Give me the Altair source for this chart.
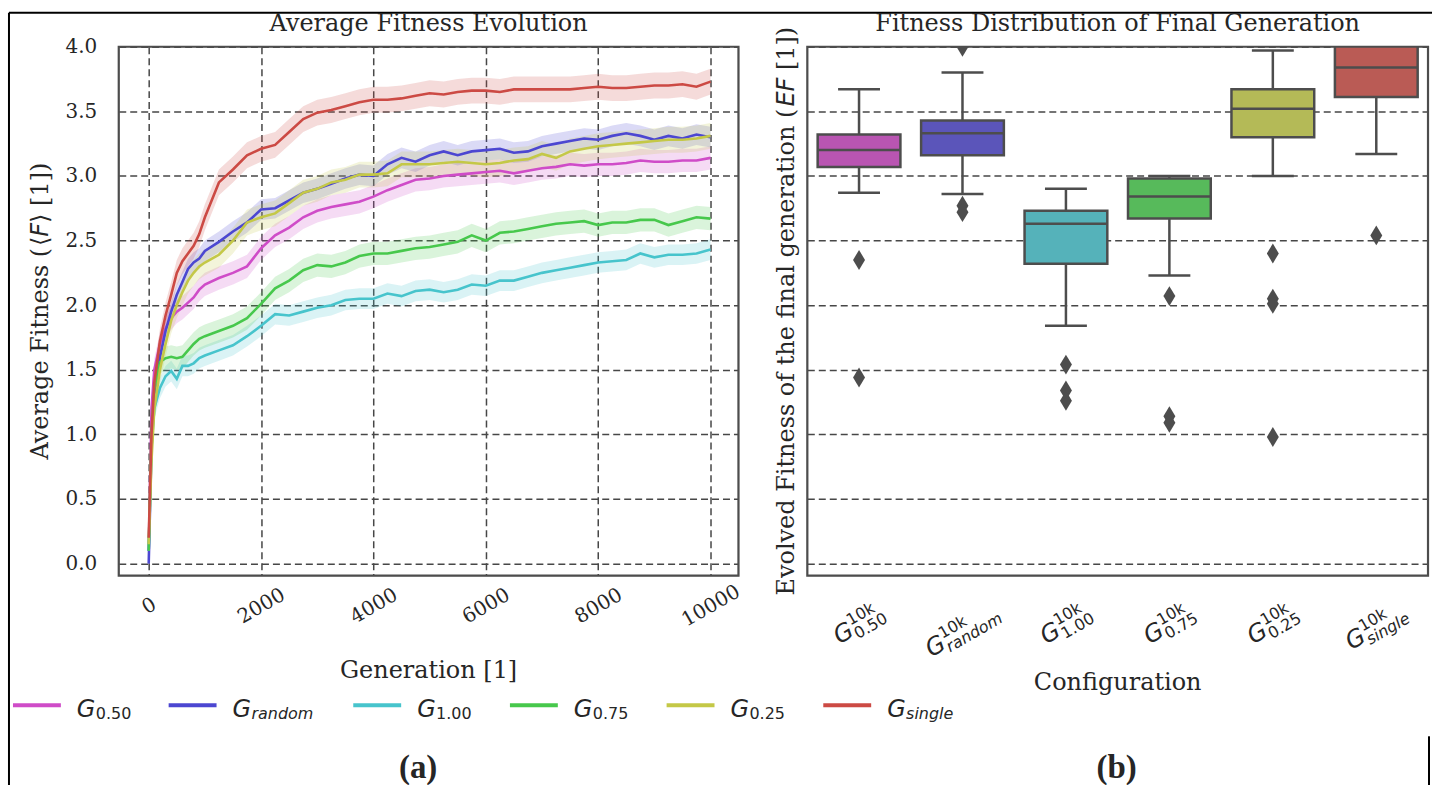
import math
import altair as alt
import pandas as pd

# ---------------------------------------------------------------------------
# Mean fitness per sampled generation, one list per configuration
# ---------------------------------------------------------------------------
generations = [0, 50, 100, 200, 300, 400, 500, 600, 700, 800, 900, 1000,
               1250, 1500, 1750, 2000, 2250, 2500, 2750, 3000, 3250, 3500, 3750, 4000,
               4250, 4500, 4750, 5000, 5250, 5500, 5750, 6000, 6250, 6500, 6750, 7000,
               7250, 7500, 7750, 8000, 8250, 8500, 8750, 9000, 9250, 9500, 9750, 10000]

fitness_050 = [0.10, 1.20, 1.50, 1.70, 1.82, 1.90, 1.95, 1.98, 2.02, 2.06, 2.12, 2.16,
               2.21, 2.25, 2.30, 2.44, 2.54, 2.60, 2.68, 2.73, 2.76, 2.78, 2.80, 2.84,
               2.89, 2.93, 2.97, 2.98, 3.00, 3.01, 3.02, 3.03, 3.04, 3.02, 3.04, 3.06,
               3.07, 3.09, 3.08, 3.09, 3.09, 3.10, 3.12, 3.11, 3.11, 3.12, 3.12, 3.14]
fitness_random = [0.00, 0.90, 1.30, 1.60, 1.80, 1.95, 2.08, 2.18, 2.28, 2.33, 2.36, 2.42,
                  2.49, 2.57, 2.64, 2.74, 2.75, 2.81, 2.87, 2.90, 2.94, 2.98, 3.01, 3.00,
                  3.09, 3.14, 3.11, 3.16, 3.19, 3.16, 3.19, 3.20, 3.21, 3.18, 3.19, 3.23,
                  3.25, 3.27, 3.29, 3.28, 3.31, 3.33, 3.31, 3.28, 3.31, 3.29, 3.32, 3.30]
fitness_100 = [0.10, 0.90, 1.20, 1.36, 1.45, 1.49, 1.43, 1.53, 1.53, 1.55, 1.59, 1.61,
               1.65, 1.69, 1.76, 1.84, 1.93, 1.92, 1.95, 1.98, 2.00, 2.04, 2.05, 2.05,
               2.09, 2.07, 2.11, 2.12, 2.10, 2.12, 2.16, 2.15, 2.19, 2.19, 2.22, 2.25,
               2.27, 2.29, 2.31, 2.33, 2.34, 2.35, 2.40, 2.37, 2.39, 2.39, 2.40, 2.43]
fitness_075 = [0.10, 1.00, 1.35, 1.56, 1.59, 1.60, 1.59, 1.60, 1.65, 1.70, 1.74, 1.76,
               1.80, 1.84, 1.90, 2.01, 2.13, 2.19, 2.27, 2.31, 2.30, 2.33, 2.38, 2.40,
               2.40, 2.42, 2.44, 2.45, 2.47, 2.49, 2.54, 2.50, 2.56, 2.57, 2.59, 2.61,
               2.63, 2.64, 2.65, 2.62, 2.64, 2.64, 2.66, 2.66, 2.62, 2.65, 2.68, 2.67]
fitness_025 = [0.15, 0.80, 1.20, 1.50, 1.70, 1.88, 2.00, 2.10, 2.19, 2.25, 2.30, 2.33,
               2.39, 2.50, 2.64, 2.68, 2.71, 2.79, 2.87, 2.90, 2.95, 2.97, 3.01, 3.01,
               3.02, 3.09, 3.09, 3.09, 3.10, 3.11, 3.10, 3.09, 3.10, 3.12, 3.13, 3.17,
               3.14, 3.19, 3.21, 3.23, 3.24, 3.25, 3.26, 3.27, 3.28, 3.28, 3.29, 3.31]
fitness_single = [0.20, 1.00, 1.40, 1.72, 1.92, 2.08, 2.25, 2.34, 2.40, 2.46, 2.55, 2.68,
                  2.95, 3.05, 3.16, 3.21, 3.24, 3.34, 3.44, 3.49, 3.51, 3.54, 3.57, 3.59,
                  3.59, 3.60, 3.62, 3.64, 3.63, 3.65, 3.66, 3.66, 3.65, 3.67, 3.67, 3.67,
                  3.67, 3.67, 3.68, 3.69, 3.68, 3.68, 3.69, 3.70, 3.70, 3.71, 3.69, 3.73]
# half width of the shaded confidence band around each mean curve
ci_halfwidth = [0.09, 0.08, 0.08, 0.09, 0.10, 0.10]

configs = ["0.50", "random", "1.00", "0.75", "0.25", "single"]
line_colors = ["#cf4cc8", "#4c47d1", "#47c4cc", "#47c84c", "#c4c847", "#cc4a44"]
box_colors = ["#b955b2", "#5b55ba", "#55b2ba", "#57ba5b", "#b4ba57", "#ba5b55"]

# ---------------------------------------------------------------------------
# Final-generation fitness distribution (box statistics + outliers)
# ---------------------------------------------------------------------------
whisker_low = [2.87, 2.86, 1.84, 2.23, 3.00, 3.17]
quartile_1 = [3.07, 3.16, 2.32, 2.67, 3.30, 3.61]
median = [3.20, 3.33, 2.63, 2.84, 3.52, 3.84]
quartile_3 = [3.32, 3.43, 2.73, 2.98, 3.67, 4.02]
whisker_high = [3.67, 3.80, 2.90, 3.00, 3.97, 4.30]
outlier_cfg = ["0.50", "0.50", "random", "random", "random", "1.00", "1.00", "1.00",
               "0.75", "0.75", "0.75", "0.25", "0.25", "0.25", "0.25", "single"]
outlier_val = [2.35, 1.44, 2.77, 2.72, 4.00, 1.54, 1.34, 1.26,
               2.07, 1.14, 1.09, 2.40, 2.05, 2.01, 0.98, 2.54]

# ---------------------------------------------------------------------------
# Layout (pixels)
# ---------------------------------------------------------------------------
W1, W2, H = 621, 622, 530
GAP = 69
OX, OY = 118, 45
PAGE_W, PAGE_H = 1434, 785
TEXT = "#262626"
FRAME = "#4d4d4d"
GRID = "#474747"
SERIF = "DejaVu Serif"
SANS = "DejaVu Sans"

y_values = [0.0, 0.5, 1.0, 1.5, 2.0, 2.5, 3.0, 3.5, 4.0]
y_scale = alt.Scale(domain=[-0.093, 4.0], nice=False, zero=False)
x_scale = alt.Scale(domain=[-533, 10497], nice=False, zero=False)

# ---------------------------------------------------------------------------
# Tables
# ---------------------------------------------------------------------------
curves = {"0.50": fitness_050, "random": fitness_random, "1.00": fitness_100,
          "0.75": fitness_075, "0.25": fitness_025, "single": fitness_single}
rows = []
for cfg, hw in zip(configs, ci_halfwidth):
    for g, v in zip(generations, curves[cfg]):
        rows.append({"gen": g, "series": cfg, "val": v, "lo": v - hw, "hi": v + hw})
curve_df = pd.DataFrame(rows)

box_df = pd.DataFrame({"cfg": configs, "lo": whisker_low, "q1": quartile_1,
                       "med": median, "q3": quartile_3, "hi": whisker_high,
                       "fill": box_colors})
out_df = pd.DataFrame({"cfg": outlier_cfg, "val": outlier_val})

color_scale = alt.Scale(domain=configs, range=line_colors)


def rotated(pieces, ax, ay, angle):
    """Place text fragments along a rotated baseline starting from (ax, ay)."""
    t = math.radians(angle)
    c, s = math.cos(t), math.sin(t)
    out = []
    for txt, kind, fs, along, across in pieces:
        out.append({"txt": txt, "kind": kind, "fs": fs,
                    "px": ax + along * c - across * s,
                    "py": ay + along * s + across * c, "ang": angle})
    return out


notes = [
    {"txt": "Average Fitness Evolution", "kind": "serif_c", "fs": 24, "px": W1 / 2, "py": -16, "ang": 0},
    {"txt": "Fitness Distribution of Final Generation", "kind": "serif_c", "fs": 24,
     "px": W1 + GAP + W2 / 2, "py": -16, "ang": 0},
    {"txt": "Generation [1]", "kind": "serif_c", "fs": 24, "px": W1 / 2, "py": 633, "ang": 0},
    {"txt": "Configuration", "kind": "serif_c", "fs": 24, "px": W1 + GAP + W2 / 2, "py": 645, "ang": 0},
    {"txt": "(a)", "kind": "bold_c", "fs": 33, "px": 300, "py": 733, "ang": 0},
    {"txt": "(b)", "kind": "bold_c", "fs": 33, "px": 1000, "py": 733, "ang": 0},
]

# left y title: Average Fitness (<F> [1])
segs = [("Average Fitness (", "serif", 214.0), ("\u27e8", "sans", 9.4), ("F", "sans_it", 13.8),
        ("\u27e9", "sans", 9.4), ("", "serif", 7.6), ("[1])", "serif", 43.3)]
total = sum(w for _, _, w in segs)
pos = -total / 2
pieces = []
for txt, kind, w in segs:
    if txt:
        pieces.append((txt, kind, 24, pos, 0))
    pos += w
notes += rotated(pieces, -71, H / 2, 270)

# right y title: Evolved Fitness of the final generation (EF [1])
segs = [("Evolved Fitness of the final generation (", "serif", 489.9), ("EF", "sans_it", 29.0),
        ("", "serif", 7.6), ("[1])", "serif", 43.3)]
total = sum(w for _, _, w in segs)
pos = -total / 2
pieces = []
for txt, kind, w in segs:
    if txt:
        pieces.append((txt, kind, 24, pos, 0))
    pos += w
notes += rotated(pieces, W1 + GAP - 13, H / 2, 270)

# category tick labels G^{10k}_{sub}, rotated 30 degrees
sub_text = ["0.50", "random", "1.00", "0.75", "0.25", "single"]
sub_kind = ["sans", "sans_it", "sans", "sans", "sans", "sans_it"]
sub_width = [35.6, 62.1, 35.6, 35.6, 35.6, 47.4]
G_W = 19.0
step = W2 / len(configs)
for i, (st, sk, sw) in enumerate(zip(sub_text, sub_kind, sub_width)):
    L = G_W + max(29.6, sw)
    cx = W1 + GAP + step * (i + 0.5)
    cy = (598 - OY) + (0.5 * L + 0.866 * 28) / 2
    notes += rotated([("G", "sans_it", 24, -L / 2, 7.5),
                      ("10k", "sans", 16, -L / 2 + G_W, -3),
                      (st, sk, 16, -L / 2 + G_W, 12.5)], cx, cy, 330)

# legend entries
legend_x0 = [12, 168, 353, 510, 667, 824]
leg_rows = []
for cfg, x0, st, sk in zip(configs, legend_x0, sub_text, sub_kind):
    leg_rows.append({"series": cfg, "x0": x0 - OX, "x1": x0 + 48 - OX})
    notes.append({"txt": "G", "kind": "sans_it", "fs": 24, "px": x0 + 64 - OX, "py": 671.7, "ang": 0})
    notes.append({"txt": st, "kind": sk, "fs": 16, "px": x0 + 83 - OX, "py": 673.3, "ang": 0})
leg_df = pd.DataFrame(leg_rows)
notes_df = pd.DataFrame(notes)

border_df = pd.DataFrame({
    "x0": [8 - OX, 8 - OX, 1431 - OX],
    "x1": [PAGE_W - OX, 8 - OX, 1431 - OX],
    "y0": [11 - OY, 11 - OY, 736 - OY],
    "y1": [11 - OY, PAGE_H - OY, PAGE_H - OY],
})
one_row = pd.DataFrame({"k": [0]})

# ---------------------------------------------------------------------------
# Left panel: fitness curves
# ---------------------------------------------------------------------------
x_enc = alt.X("gen:Q", scale=x_scale, axis=alt.Axis(
    values=[0, 2000, 4000, 6000, 8000, 10000], format="d", title=None,
    grid=True, gridDash=[7, 4], gridColor=GRID, gridWidth=1.5,
    ticks=False, tickSize=0, domain=False,
    labelAngle=330, labelAlign="center", labelBaseline="middle", labelPadding=30,
    labelFont=SERIF, labelFontSize=20, labelColor=TEXT, labelOverlap=False, labelFlush=False))
y_axis_left = alt.Axis(values=y_values, format=".1f", title=None,
                       grid=True, gridDash=[7, 4], gridColor=GRID, gridWidth=1.5,
                       ticks=False, tickSize=0, domain=False, labelPadding=22,
                       labelFont=SERIF, labelFontSize=20, labelColor=TEXT)

bands = alt.Chart(curve_df).mark_area(opacity=0.2, clip=True).encode(
    x=x_enc,
    y=alt.Y("lo:Q", scale=y_scale, axis=y_axis_left),
    y2="hi:Q",
    color=alt.Color("series:N", scale=color_scale, legend=None),
)
lines = alt.Chart(curve_df).mark_line(strokeWidth=2.6, clip=True).encode(
    x=x_enc,
    y=alt.Y("val:Q", scale=y_scale, axis=y_axis_left),
    color=alt.Color("series:N", scale=color_scale, legend=None),
)

canvas = alt.Chart(one_row).mark_rect(opacity=0, fillOpacity=0).encode(
    x=alt.value(-OX), x2=alt.value(PAGE_W - OX), y=alt.value(-OY), y2=alt.value(PAGE_H - OY))


def frame(width):
    return alt.Chart(one_row).mark_rect(fillOpacity=0, stroke=FRAME, strokeWidth=2.2).encode(
        x=alt.value(0), x2=alt.value(width), y=alt.value(0), y2=alt.value(H))


borders = alt.Chart(border_df).mark_rule(color="#000000", strokeWidth=2).encode(
    x=alt.X("x0:Q", scale=None), x2="x1:Q", y=alt.Y("y0:Q", scale=None), y2="y1:Q")

swatches = alt.Chart(leg_df).mark_rule(strokeWidth=4).encode(
    x=alt.X("x0:Q", scale=None), x2="x1:Q", y=alt.value(660),
    color=alt.Color("series:N", scale=color_scale, legend=None))

text_styles = {
    "serif": dict(font=SERIF, align="left"),
    "serif_c": dict(font=SERIF, align="center"),
    "sans": dict(font=SANS, align="left"),
    "sans_it": dict(font=SANS, fontStyle="italic", align="left"),
    "bold_c": dict(font="Liberation Serif", fontWeight="bold", align="center"),
}
text_layers = []
for kind, style in text_styles.items():
    sub = notes_df[notes_df["kind"] == kind]
    if len(sub) == 0:
        continue
    text_layers.append(
        alt.Chart(sub).mark_text(baseline="alphabetic", color=TEXT, **style).encode(
            x=alt.X("px:Q", scale=None), y=alt.Y("py:Q", scale=None),
            text="txt:N", size=alt.Size("fs:Q", scale=None),
            angle=alt.Angle("ang:Q", scale=None)))

left = alt.layer(canvas, bands, lines, frame(W1), swatches, borders, *text_layers).properties(
    width=W1, height=H)

# ---------------------------------------------------------------------------
# Right panel: box plots of the final generation
# ---------------------------------------------------------------------------
bx = alt.X("cfg:N", sort=configs,
           scale=alt.Scale(domain=configs, paddingInner=0, paddingOuter=0),
           axis=alt.Axis(labels=False, ticks=False, domain=False, grid=False, title=None))
y_axis_right = alt.Axis(values=y_values, labels=False, ticks=False, domain=False, title=None,
                        grid=True, gridDash=[7, 4], gridColor=GRID, gridWidth=1.5)


def by(field):
    return alt.Y(f"{field}:Q", scale=y_scale, axis=y_axis_right)


base = alt.Chart(box_df)
whisk_lo = base.mark_rule(color=FRAME, strokeWidth=2.5, clip=True).encode(x=bx, y=by("lo"), y2="q1:Q")
whisk_hi = base.mark_rule(color=FRAME, strokeWidth=2.5, clip=True).encode(x=bx, y=by("q3"), y2="hi:Q")
cap_lo = base.mark_tick(color=FRAME, size=42, thickness=2.5, opacity=1, clip=True).encode(x=bx, y=by("lo"))
cap_hi = base.mark_tick(color=FRAME, size=42, thickness=2.5, opacity=1, clip=True).encode(x=bx, y=by("hi"))
boxes = base.mark_bar(width={"band": 0.8}, stroke=FRAME, strokeWidth=2.5, opacity=1, clip=True).encode(
    x=bx, y=by("q1"), y2="q3:Q", fill=alt.Color("fill:N", scale=None))
meds = base.mark_tick(color=FRAME, size=83, thickness=2.5, opacity=1, clip=True).encode(x=bx, y=by("med"))
fliers = alt.Chart(out_df).mark_point(
    shape="M0,-1L0.6,0L0,1L-0.6,0Z", size=400, filled=True, color=FRAME, opacity=1,
    strokeWidth=0, clip=True).encode(x=bx, y=by("val"))

right = alt.layer(whisk_lo, whisk_hi, cap_lo, cap_hi, boxes, meds, fliers, frame(W2)).properties(
    width=W2, height=H)

chart = alt.hconcat(left, right, spacing=GAP, bounds="flush").resolve_scale(
    color="independent").properties(padding=0).configure_view(
    strokeWidth=0).configure(background="white")

chart.save("out.html", embed_options={"renderer": "svg", "actions": False})
